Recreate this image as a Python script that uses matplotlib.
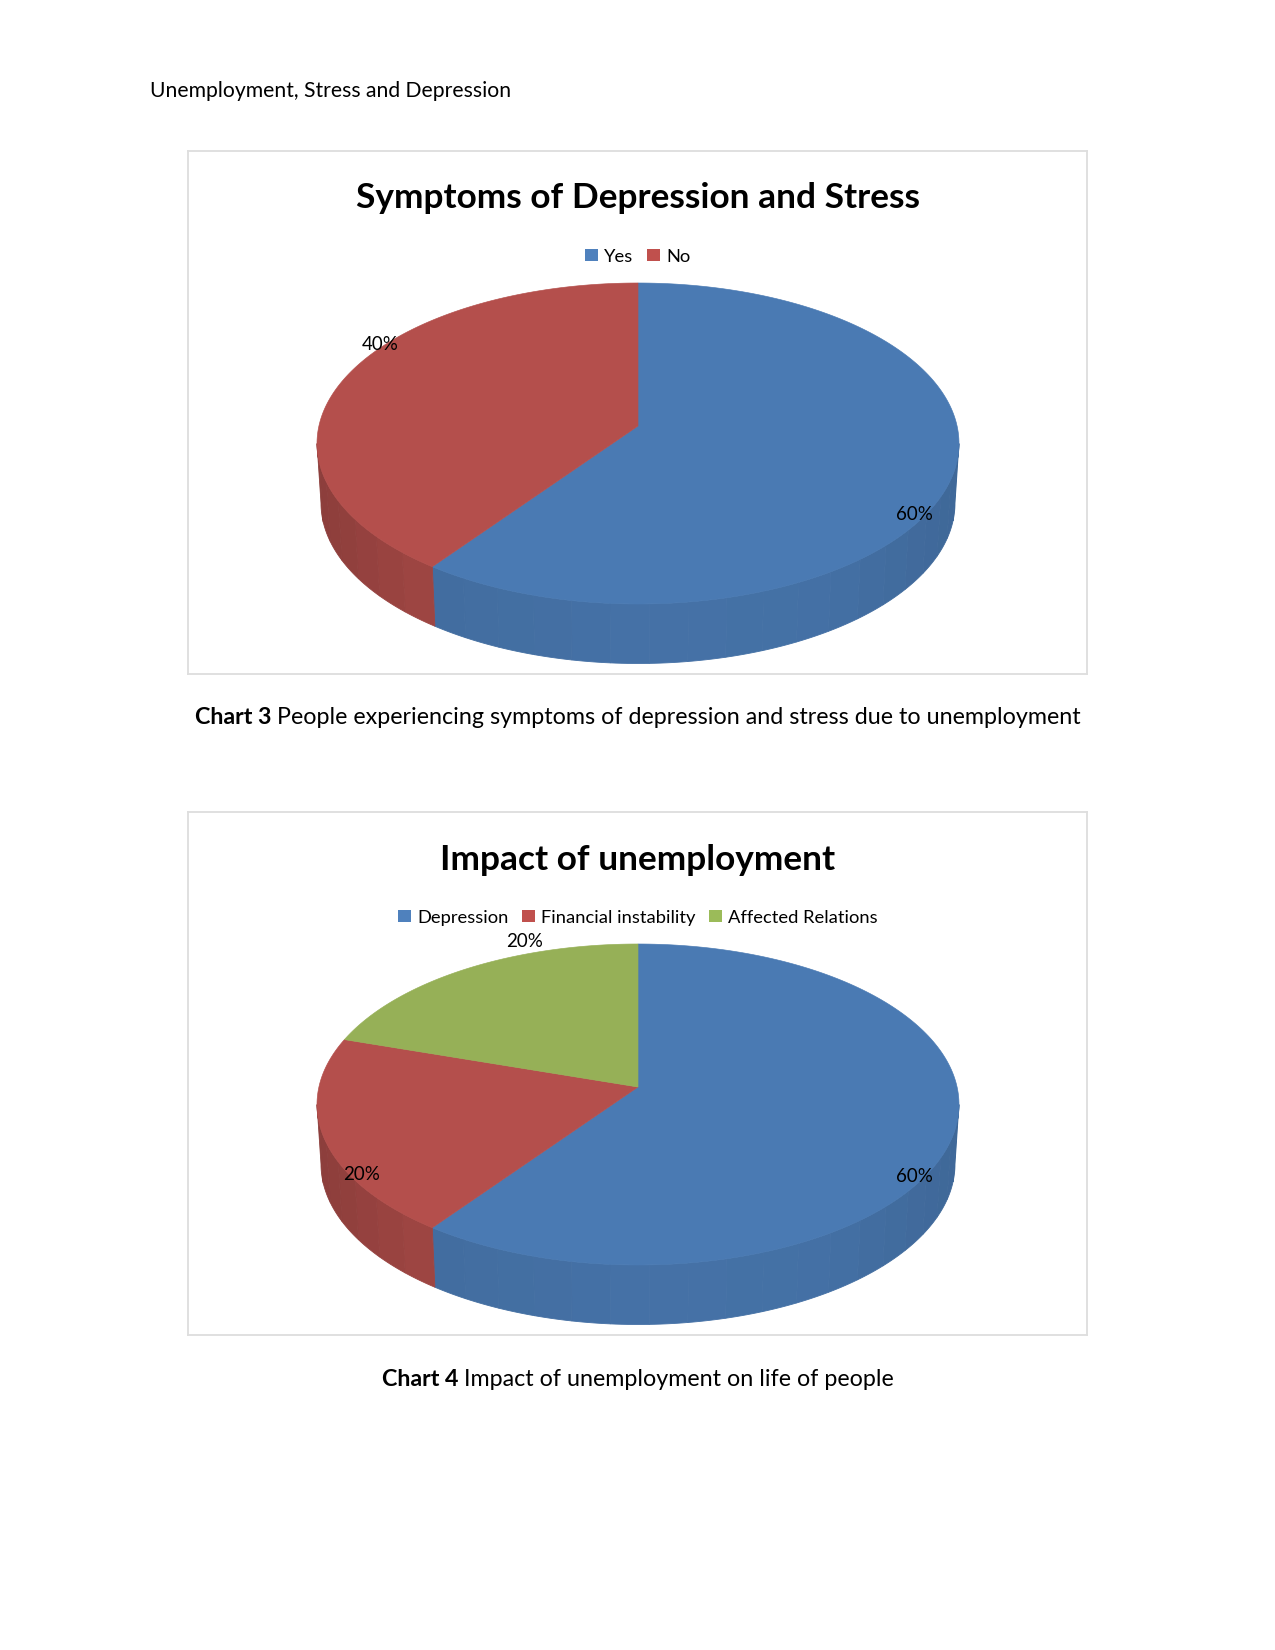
import numpy as np
import matplotlib
matplotlib.use("Agg")
import matplotlib.pyplot as plt
from matplotlib.patches import Patch, Polygon

plt.rcParams['font.family'] = ['Lato', 'DejaVu Sans']

# Datos
chart3_names = ['Yes', 'No']
chart3_values = [60, 40]
chart4_names = ['Depression', 'Financial instability', 'Affected Relations']
chart4_values = [60, 20, 20]

face_colors = ['#4A7AB3', '#B44F4C', '#96B057']
legend_colors = ['#4F81BD', '#C0504D', '#9BBB59']

W, H = 1275, 1650
fig = plt.figure(figsize=(8.5, 11), dpi=150, facecolor='white')

# Un solo eje de pagina para los textos sueltos
page = fig.add_axes([0, 0, 1, 1], zorder=5)
page.set_xlim(0, W)
page.set_ylim(H, 0)
page.axis('off')

# Geometria de la tarta, en pixeles locales del recuadro
CX, CY, A, B = 450, 292.5, 321, 160.5
A_LOW, DEPTH = 317, 59.5
K = 0.109  # desplaza el vertice: efecto de perspectiva


def proyectar(theta, a, cy):
    # theta en sentido horario desde arriba
    x, y = np.sin(theta), np.cos(theta)
    d = 1 + K * y
    xp = x * np.sqrt(1 - K**2) / d
    yp = (y + K) / d
    return CX + a * xp, cy - B * yp


def sombra(theta):
    u = (proyectar(theta, 1, 0)[0] - CX)
    return np.interp(u, [-1, -0.64, 0, 0.6, 1], [0.78, 0.89, 0.93, 0.92, 0.85])


def tarta(ax, values, names, title, label_pos):
    limites = np.cumsum([0] + list(values)) / sum(values) * 2 * np.pi
    vis_ini = np.arccos(-K)
    vis_fin = 2 * np.pi - vis_ini

    # Lateral
    for i in range(len(values)):
        t0, t1 = max(limites[i], vis_ini), min(limites[i + 1], vis_fin)
        if t0 >= t1:
            continue
        n = max(int(np.degrees(t1 - t0) / 6), 1)
        bordes = np.linspace(t0, t1, n + 1)
        for a0, a1 in zip(bordes[:-1], bordes[1:]):
            t = np.linspace(a0, a1, 8)
            xs, ys = proyectar(t, A, CY)
            xb, yb = proyectar(t, A_LOW, CY + DEPTH)
            pts = np.r_[np.c_[xs, ys], np.c_[xb, yb][::-1]]
            rgb = np.array(matplotlib.colors.to_rgb(face_colors[i])) * sombra((a0 + a1) / 2)
            ax.add_patch(Polygon(pts, closed=True, fc=rgb, ec=rgb, lw=0.4, zorder=2))

    # Cara superior
    vx, vy = CX, CY - B * K
    for i in range(len(values)):
        t = np.linspace(limites[i], limites[i + 1], 200)
        xs, ys = proyectar(t, A, CY)
        pts = np.r_[[[vx, vy]], np.c_[xs, ys]]
        ax.add_patch(Polygon(pts, closed=True, fc=face_colors[i], ec=face_colors[i], lw=0.3, zorder=3))

    for v, (lx, ly) in zip(values, label_pos):
        ax.text(lx, ly, f'{v}%', ha='center', va='center', fontsize=9, color='black', zorder=4)

    ax.text(450, 47.5, title, ha='center', va='center', fontsize=16.9, fontweight='bold', color='black')

    handles = [Patch(fc=legend_colors[i], ec='none', label=names[i]) for i in range(len(names))]
    ax.legend(handles=handles, loc='center', bbox_to_anchor=(450, 105.5), bbox_transform=ax.transData,
              ncol=len(names), frameon=False, fontsize=8.8, handlelength=0.68, handleheight=0.68,
              handletextpad=0.35, columnspacing=0.75, borderpad=0, borderaxespad=0)

    ax.set_xlim(0, 899)
    ax.set_ylim(523, 0)
    ax.set_xticks([])
    ax.set_yticks([])
    for s in ax.spines.values():
        s.set_color('#DEDEDE')
        s.set_linewidth(0.9)


def eje(x0, y0, x1, y1):
    return fig.add_axes([x0 / W, 1 - y1 / H, (x1 - x0) / W, (y1 - y0) / H])


def pie_de_figura(y, negrita, resto):
    # Negrita + texto normal, centrados juntos
    r = fig.canvas.get_renderer()
    t1 = page.text(0, y, negrita, fontsize=11.15, fontweight='bold', va='center', ha='left')
    t2 = page.text(0, y, resto, fontsize=11.15, va='center', ha='left')
    w1 = t1.get_window_extent(r).width + 6
    w2 = t2.get_window_extent(r).width
    x0 = 638 - (w1 + w2) / 2
    t1.set_x(x0)
    t2.set_x(x0 + w1)


page.text(150, 91, 'Unemployment, Stress and Depression', fontsize=10.15, va='center', ha='left')

ax3 = eje(188, 151, 1087, 674)
tarta(ax3, chart3_values, chart3_names, 'Symptoms of Depression and Stress', [(726, 363), (192, 193)])
pie_de_figura(717, 'Chart 3', 'People experiencing symptoms of depression and stress due to unemployment')

ax4 = eje(188, 812, 1087, 1335)
tarta(ax4, chart4_values, chart4_names, 'Impact of unemployment', [(726, 364), (174, 363), (337, 129)])
pie_de_figura(1379, 'Chart 4', 'Impact of unemployment on life of people')

fig.savefig('out.png', dpi=150, facecolor='white')
